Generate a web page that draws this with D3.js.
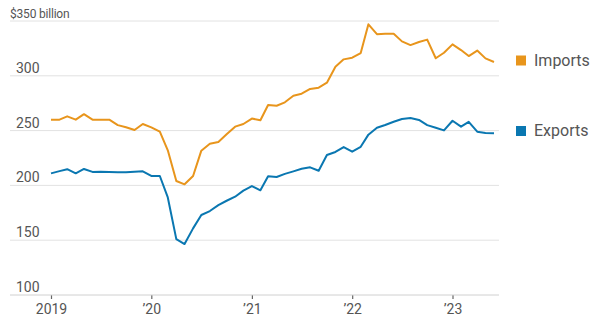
<!DOCTYPE html>
<html>
<head>
<meta charset="utf-8">
<script src="https://cdn.jsdelivr.net/npm/d3@7"></script>
<style>
  body { margin: 0; background: #fff; }
  svg text { font-family: "Liberation Sans Narrow", "Roboto", "Liberation Sans", sans-serif; }
</style>
</head>
<body>
<script>
// monthly values, Jan 2019 .. Jun 2023 ($ billion)
var imports = [
  260, 260, 263, 260, 265, 260, 260, 260, 255, 253, 250.5, 256,
  253, 249, 232, 204, 201, 208.6, 231.7, 238, 239.6, 246.6, 253.6, 256,
  261, 259.4, 273.4, 272.7, 275.8, 281.8, 283.7, 288, 289.2, 293.7, 308.3, 315,
  316.5, 320.8, 347, 338, 338.4, 338.4, 331.4, 328, 330.8, 333, 316, 321,
  328.7, 323.5, 318, 323, 315.9, 312.6
];
var exportsVals = [
  211, 213, 214.8, 211, 215, 212.3, 212.5, 212.3, 212, 212, 212.5, 212.8,
  208.6, 208.6, 189, 151, 146.5, 160.8, 173, 176.6, 182, 186, 189.7, 195.2,
  199.4, 195.5, 208.3, 207.7, 210.5, 212.8, 215.2, 216.5, 213.4, 227.7, 230.5, 235,
  230.8, 235.2, 246.3, 252.6, 255.1, 258.1, 260.6, 261.5, 259.7, 255, 252.6, 250.2,
  259, 253.6, 258, 249, 247.8, 247.5
];
var yTicks = [100, 150, 200, 250, 300, 350];
var xTickYears = [2019, 2020, 2021, 2022, 2023];
var xTickLabels = ['2019', '\u201920', '\u201921', '\u201922', '\u201923'];
var seriesNames = ['Imports', 'Exports'];
var seriesColors = ['#e8951c', '#0a77b1'];

var width = 592, height = 325;
var months = d3.range(imports.length).map(i => new Date(2019, i, 1));

var svg = d3.select('body').append('svg')
  .attr('width', width)
  .attr('height', height);

var x = d3.scaleTime()
  .domain([months[0], months[months.length - 1]])
  .range([51, 494]);

var y = d3.scaleLinear()
  .domain([100, 350])
  .range([295, 21]);

// gridlines
svg.append('g')
  .selectAll('line')
  .data(yTicks.slice(1))
  .join('line')
  .attr('x1', 10)
  .attr('x2', 499)
  .attr('y1', d => y(d))
  .attr('y2', d => y(d))
  .attr('stroke', '#e2e2e2')
  .attr('stroke-width', 1);

// y labels sit just above their gridline
svg.append('g')
  .selectAll('text')
  .data(yTicks)
  .join('text')
  .attr('x', d => d === 350 ? 10 : 16)
  .attr('y', d => y(d) - 3)
  .attr('font-size', d => d === 350 ? 12 : 14)
  .attr('letter-spacing', d => d === 350 ? -0.2 : 0)
  .attr('fill', '#555')
  .text(d => d === 350 ? '$350 billion' : d);

// x axis
var xAxis = d3.axisBottom(x)
  .tickValues(xTickYears.map(yr => new Date(yr, 0, 1)))
  .tickSize(4)
  .tickFormat((d, i) => xTickLabels[i]);

var gx = svg.append('g')
  .attr('transform', 'translate(0,' + y(100) + ')')
  .call(xAxis);
gx.select('.domain').remove();
gx.append('line')
  .attr('x1', 10).attr('x2', 499)
  .attr('stroke', '#d0d0d0');
gx.selectAll('.tick line').attr('stroke', '#666').attr('stroke-width', 1.2);
gx.selectAll('.tick text')
  .attr('font-size', 14)
  .attr('fill', '#555')
  .attr('y', 9)
  .attr('font-family', '"Liberation Sans Narrow", "Roboto", sans-serif');

// lines
var line = d3.line()
  .x((d, i) => x(months[i]))
  .y(d => y(d));

[imports, exportsVals].forEach(function (vals, k) {
  svg.append('path')
    .datum(vals)
    .attr('fill', 'none')
    .attr('stroke', seriesColors[k])
    .attr('stroke-width', 2)
    .attr('stroke-linejoin', 'round')
    .attr('d', line);
});

// legend
var legendY = [60.5, 131];
var legend = svg.append('g')
  .selectAll('g')
  .data(seriesNames)
  .join('g')
  .attr('transform', (d, i) => 'translate(516,' + legendY[i] + ')');

legend.append('rect')
  .attr('x', 0).attr('y', -5)
  .attr('width', 10).attr('height', 10)
  .attr('fill', (d, i) => seriesColors[i]);

legend.append('text')
  .attr('x', 18)
  .attr('y', 5)
  .attr('font-size', 16)
  .attr('fill', '#555')
  .text(d => d);
</script>
</body>
</html>
